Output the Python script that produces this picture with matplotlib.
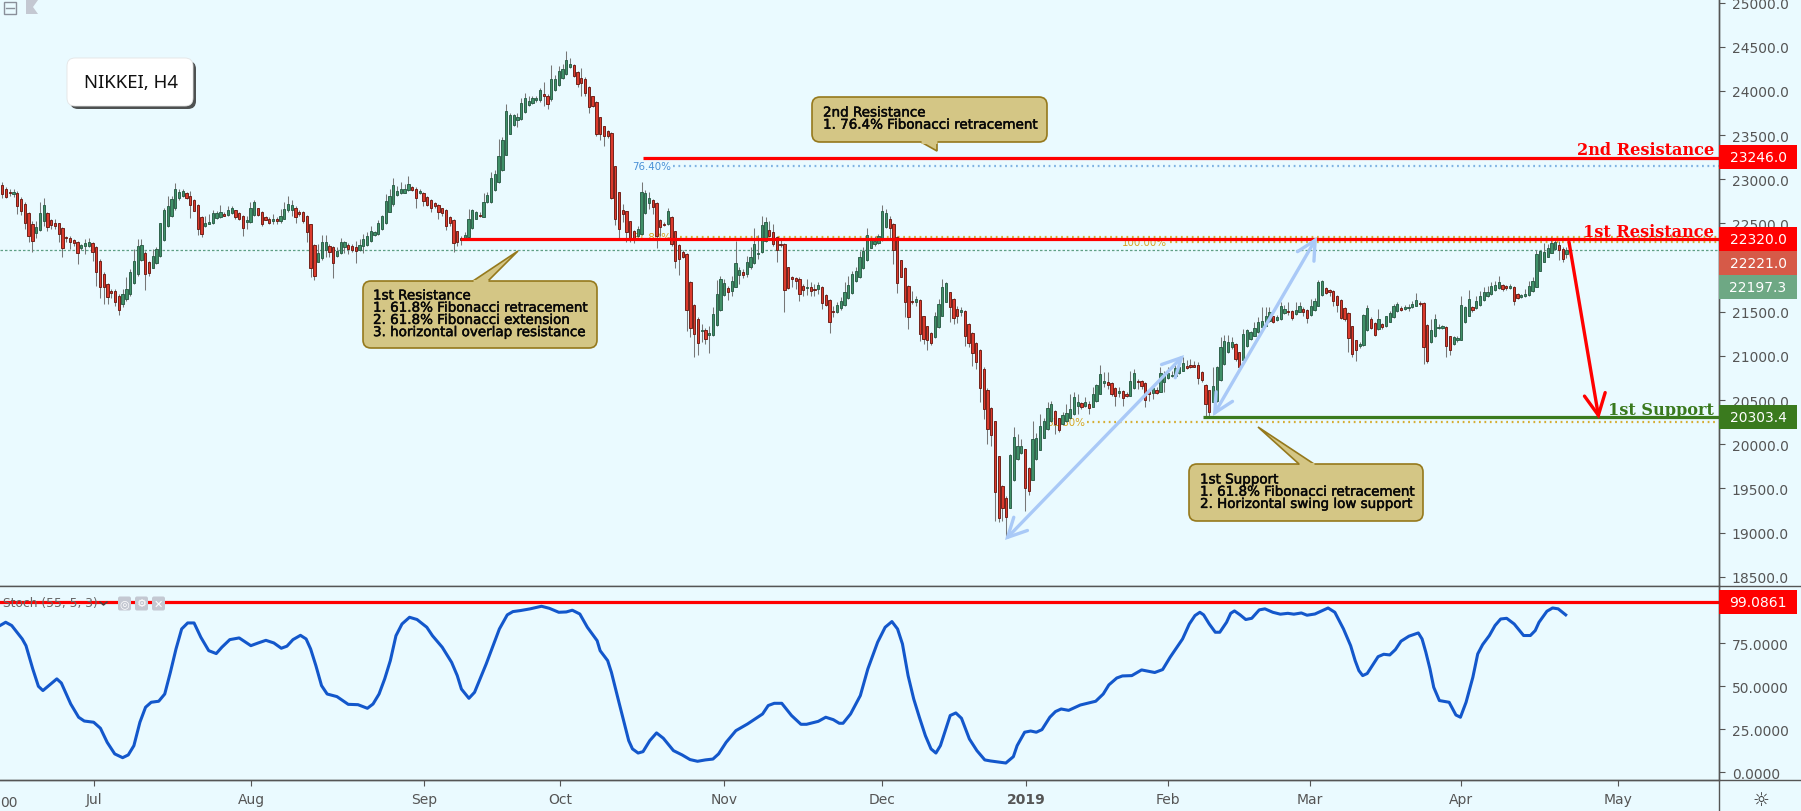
import numpy as np
import matplotlib
matplotlib.use("Agg")
import matplotlib.pyplot as plt
import matplotlib.patheffects as pe
from matplotlib.patches import FancyBboxPatch, FancyArrowPatch, Polygon, Rectangle

# ---- data: rows are (open, high, low, close) -------------------------------
candles_a = [
(22940,22965,22785,22830),(22895,22910,22785,22800),(22850,22890,22815,22840),(22830,22890,22795,22860),
(22840,22870,22605,22700),(22775,22795,22590,22645),(22720,22740,22435,22510),(22615,22625,22285,22360),
(22490,22530,22180,22305),(22390,22530,22340,22465),(22430,22740,22420,22620),(22530,22785,22475,22710),
(22615,22625,22420,22465),(22540,22550,22435,22480),(22510,22550,22435,22475),(22505,22510,22285,22385),
(22445,22455,22115,22220),(22335,22360,22285,22330),(22330,22355,22210,22285),(22310,22325,22250,22275),
(22295,22305,22040,22170),(22220,22265,22200,22255),(22240,22325,22150,22275),(22240,22330,22230,22295),
(22275,22285,22080,22180),(22230,22250,21795,21945),(22080,22095,21660,21775),(21925,21945,21585,21775),
(21810,21830,21585,21670),(21740,21755,21660,21715),(21730,21755,21570,21615),(21675,21700,21465,21520),
(21585,21755,21550,21700),(21645,21890,21625,21755),(21700,21985,21680,21955),(21830,22210,21815,22070),
(21925,22325,21910,22240),(22090,22325,22075,22255),(22170,22190,21750,21925),(22060,22080,21910,21940),
(22000,22215,21990,22130),(22050,22230,22040,22210),(22130,22510,22115,22500),(22315,22680,22305,22650),
(22475,22815,22455,22695),(22580,22815,22570,22775),(22670,22955,22655,22895),(22785,22890,22770,22860),
(22815,22890,22805,22865),(22840,22860,22775,22790),(22815,22870,22560,22710),(22765,22775,22645,22645),
(22710,22720,22370,22435),(22570,22580,22350,22385),(22475,22585,22455,22510),(22495,22605,22490,22520),
(22500,22655,22495,22615),(22560,22645,22550,22620),(22570,22710,22565,22635),(22610,22625,22580,22585),
(22600,22700,22585,22650),(22620,22700,22610,22670),(22650,22655,22550,22575),(22615,22625,22540,22555),
(22580,22595,22360,22450),(22520,22585,22435,22540),(22520,22740,22510,22670),(22595,22770,22585,22740),
(22670,22680,22585,22595),(22635,22645,22475,22490),(22570,22585,22535,22540),(22555,22570,22490,22510),
(22530,22605,22490,22555),(22550,22570,22490,22530),(22530,22660,22510,22580),(22555,22740,22550,22660),
(22650,22815,22625,22725),(22655,22765,22585,22710),(22675,22700,22505,22575),(22635,22655,22585,22610),
]
candles_b = [
(22625,22645,22510,22530),(22580,22590,22285,22400),(22490,22495,21890,21995),(22255,22265,21860,21900),
(22065,22265,22060,22160),(22105,22370,22090,22295),(22200,22370,22115,22285),(22240,22265,22115,22180),
(22230,22250,21880,22050),(22135,22230,22115,22190),(22165,22340,22150,22295),(22230,22305,22170,22290),
(22260,22275,22155,22215),(22245,22265,22180,22200),(22230,22305,22050,22190),(22200,22325,22190,22260),
(22250,22380,22170,22325),(22255,22400,22240,22360),(22305,22475,22290,22410),(22365,22420,22355,22400),
(22380,22540,22370,22510),(22435,22595,22430,22580),(22505,22830,22495,22755),(22635,22890,22625,22815),
(22715,23015,22700,22935),(22825,22925,22815,22865),(22845,22965,22835,22890),(22850,22945,22845,22895),
(22880,23035,22870,22942),(22910,22920,22870,22880),(22895,22910,22680,22790),(22845,22890,22835,22865),
(22850,22860,22700,22755),(22805,22815,22695,22710),(22765,22775,22625,22680),(22730,22740,22670,22695),
(22710,22720,22550,22635),(22670,22680,22585,22620),(22655,22665,22430,22475),(22570,22580,22475,22505),
(22535,22550,22180,22280),(22410,22420,22240,22285),(22340,22360,22255,22310),(22330,22405,22320,22370),
(22350,22660,22340,22555),(22450,22660,22435,22650),(22555,22645,22550,22625),(22595,22625,22570,22580),
(22575,22850,22570,22745),(22740,22860,22730,22820),(22740,23080,22730,23020),(22880,23110,22870,23060),
(22965,23455,22955,23260),(23110,23475,23095,23440),(23280,23850,23275,23770),(23515,23755,23510,23730),
(23615,23740,23605,23730),(23675,23755,23590,23705),(23680,23925,23675,23860),(23765,23975,23755,23920),
(23840,23945,23835,23890),(23865,23945,23850,23925),(23900,23945,23870,23915),(23900,24035,23870,24010),
(23960,24100,23835,23940),(23945,23965,23790,23855),(23910,24295,23890,24140),(24015,24180,24005,24135),
(24070,24285,24060,24230),(24145,24305,24135,24250),(24190,24450,24180,24345),(24275,24370,24265,24300),
(24290,24305,24155,24165),(24220,24230,24050,24080),(24150,24255,23940,24095),(24140,24155,23945,23980),
(24050,24060,23750,23815),(23940,23945,23815,23825),(23880,23890,23495,23510),(23700,23710,23450,23510),
]
candles_c = [
(23600,23607,23380,23494),(23547,23562,23464,23494),(23520,23531,22776,22784),(23146,23154,22482,22554),
(22852,22860,22331,22437),(22648,22720,22512,22607),(22637,22644,22286,22407),(22524,22531,22286,22324),
(22410,22429,22278,22335),(22361,22475,22342,22433),(22380,22965,22369,22852),(22622,22882,22607,22841),
(22731,22860,22663,22784),(22761,22776,22607,22682),(22727,22739,22222,22354),(22539,22550,22361,22456),
(22497,22512,22475,22482),(22497,22675,22482,22637),(22569,22588,22248,22267),(22410,22418,21991,22078),
(22256,22267,21916,22097),(22176,22203,22105,22123),(22150,22161,21285,21516),(21836,21852,21210,21316),
(21572,21587,20983,21244),(21418,21436,21014,21146),(21278,21361,21153,21289),(21293,21312,21134,21191),
(21240,21342,21032,21255),(21240,21550,21229,21470),(21353,21859,21342,21697),(21523,21908,21512,21867),
(21693,21870,21682,21821),(21765,21795,21633,21727),(21738,21908,21682,21848),(21784,22305,21776,22052),
(21920,22003,21814,21972),(21946,21984,21882,21920),(21931,22135,21889,22063),(22003,22229,21984,22120),
(22052,22444,22040,22267),(22154,22369,22097,22165),(22172,22580,22165,22482),(22305,22569,22286,22512),
(22425,22531,22342,22357),(22399,22493,22248,22271),(22346,22361,22059,22195),(22267,22324,22229,22259),
(22263,22274,21493,21750),(22003,22010,21757,21765),(21893,21908,21776,21867),(21878,21889,21757,21844),
(21870,21889,21625,21704),(21791,21814,21682,21750),(21765,21870,21689,21776),(21780,21833,21674,21731),
(21757,21814,21682,21742),(21753,21833,21701,21802),(21776,21795,21531,21595),(21685,21697,21561,21580),
(21629,21644,21255,21380),(21508,21568,21436,21500),(21500,21606,21486,21576),(21538,21663,21523,21621),
(21576,21840,21561,21719),(21651,21908,21644,21802),(21712,21965,21701,21923),(21844,22003,21833,21957),
(21889,22191,21878,22120),(21995,22229,21984,22184),(22089,22444,22078,22365),(22225,22342,22218,22308),
(22267,22354,22248,22305),(22278,22380,22267,22354),(22316,22709,22305,22637),(22459,22663,22448,22614),
(22546,22588,22323,22444),(22490,22501,22040,22199),(22342,22354,21712,21821),(22082,22089,21889,21897),
]
candles_d = [
(21991,22003,21436,21606),(21795,21802,21304,21440),(21621,21738,21587,21614),(21614,21682,21568,21640),
(21629,21644,21172,21248),(21448,21455,21134,21187),(21334,21342,21070,21183),(21255,21267,21123,21146),
(21210,21493,21198,21448),(21323,21644,21312,21584),(21455,21870,21448,21776),(21614,21840,21606,21825),
(21719,21727,21380,21550),(21640,21651,21361,21425),(21527,21568,21372,21455),(21493,21550,21455,21519),
(21508,21519,21108,21221),(21357,21369,21097,21146),(21255,21267,20889,21029),(21142,21153,20851,20927),
(21063,21078,20473,20632),(20851,20870,20285,20398),(20620,20632,20001,20171),(20405,20417,19982,20103),
(20258,20266,19126,19461),(19862,19869,19122,19167),(19526,19537,19126,19280),(19397,19409,18944,19178),
(19280,19888,19277,19884),(19590,20201,19586,20077),(19831,20115,19824,19975),(19903,20058,19888,19975),
(19941,19952,19246,19507),(19726,19737,19424,19473),(19601,20262,19597,20058),(19828,20126,19820,20066),
(19937,20341,19930,20205),(20073,20303,20066,20262),(20171,20481,20164,20413),(20262,20492,20247,20451),
(20375,20386,20115,20224),(20292,20303,20141,20164),(20228,20360,20217,20330),(20266,20454,20254,20352),
(20300,20568,20292,20394),(20341,20587,20330,20537),(20436,20568,20341,20473),(20462,20473,20398,20424),
(20436,20530,20417,20473),(20458,20492,20341,20405),(20424,20643,20417,20568),(20492,20681,20481,20670),
(20571,20896,20564,20794),(20692,20813,20643,20719),(20700,20813,20624,20673),(20692,20700,20549,20571),
(20636,20647,20436,20541),(20583,20643,20530,20605),(20602,20617,20436,20526),(20564,20587,20530,20549),
(20549,20832,20541,20715),(20632,20851,20624,20805),(20715,20738,20624,20707),(20711,20722,20624,20662),
(20692,20700,20417,20504),(20598,20617,20492,20571),(20579,20662,20511,20632),(20613,20643,20568,20583),
(20594,20870,20587,20805),(20700,20832,20587,20794),(20745,20870,20738,20805),(20775,20832,20756,20783),
(20775,20907,20768,20858),(20805,20926,20794,20870),(20832,20983,20824,20919),(20881,20950,20850,20858),
(20896,20960,20860,20873),(20896,20940,20870,20870),(20896,20926,20681,20749),(20821,20832,20700,20730),
(20673,20681,20322,20451),(20609,20617,20315,20360),(20481,20870,20473,20654),(20492,20889,20473,20877),
]
candles_e = [
(20723,21210,20715,21100),(20904,21236,20897,21165),(21040,21236,21032,21161),(21097,21210,21078,21153),
(21131,21142,20946,20964),(21040,21048,20859,20870),(20957,21304,20946,21248),(21112,21304,21097,21289),
(21195,21285,21183,21267),(21229,21380,21221,21319),(21267,21436,21259,21380),(21323,21550,21312,21395),
(21342,21550,21334,21455),(21399,21550,21387,21493),(21448,21455,21372,21387),(21410,21463,21399,21436),
(21418,21606,21410,21561),(21486,21576,21474,21531),(21508,21606,21463,21500),(21508,21523,21410,21425),
(21474,21606,21463,21523),(21500,21606,21493,21568),(21531,21550,21448,21493),(21519,21531,21372,21425),
(21467,21644,21455,21561),(21516,21651,21508,21621),(21568,21859,21561,21833),(21693,21859,21682,21848),
(21765,21776,21701,21716),(21746,21757,21682,21719),(21734,21742,21561,21617),(21682,21689,21493,21580),
(21633,21644,21417,21425),(21538,21550,21399,21417),(21482,21493,21040,21199),(21334,21342,20983,21021),
(21176,21183,20946,21063),(21116,21153,21085,21131),(21123,21474,21116,21463),(21289,21576,21282,21538),
(21414,21436,21304,21320),(21368,21380,21221,21236),(21304,21531,21297,21418),(21357,21368,21304,21323),
(21334,21455,21323,21448),(21387,21512,21380,21485),(21440,21587,21433,21561),(21504,21606,21493,21587),
(21546,21561,21512,21523),(21531,21576,21523,21550),(21538,21587,21512,21553),(21550,21625,21538,21587),
(21568,21712,21561,21633),(21598,21625,21568,21591),(21595,21606,20908,21097),(21350,21361,20919,20946),
(21153,21417,21146,21293),(21221,21474,21213,21417),(21312,21361,21304,21327),(21319,21350,21304,21338),
(21323,21334,20983,21116),(21221,21229,21010,21063),(21134,21229,21123,21210),(21176,21221,21161,21199),
(21183,21682,21176,21576),(21380,21568,21372,21557),(21455,21750,21448,21644),(21553,21568,21493,21519),
(21538,21682,21531,21621),(21576,21738,21568,21682),(21636,21776,21625,21727),(21674,21787,21663,21727),
(21697,21833,21689,21795),(21750,21852,21738,21802),(21769,21901,21757,21836),(21802,21814,21738,21757),
(21787,21802,21746,21765),(21772,21814,21757,21791),(21776,21787,21576,21617),(21697,21708,21644,21659),
(21670,21701,21655,21689),(21674,21757,21663,21701),(21685,21852,21674,21791),(21738,21889,21727,21844),
(21784,22203,21776,22154),(21965,22203,21957,22191),(22067,22278,22059,22180),(22123,22267,22116,22222),
(22165,22343,22165,22278),(22210,22323,22203,22293),(22256,22305,22090,22203),(22214,22229,22067,22097),
(22154,22229,22108,22199),
]
# Stochastic line: (candle position, value)
stoch_a = [(-0.6,85.3),(0.9,87.2),(2.5,85.3),(5.3,77.5),(6.3,73.6),(8.1,60.1),(9.6,50.0),(10.8,47.5),(12.6,50.8),(14.5,54.3),
(15.7,51.9),(18.2,39.7),(20.3,32.0),(21.8,29.8),(24.3,29.1),(26.1,25.6),(27.9,17.4),(29.9,10.7),(32.0,8.5),(33.5,10.1),
(35.0,15.5),(36.6,29.1),(38.1,37.8),(39.6,40.7),(41.6,41.3),(43.2,45.5),(44.7,58.1),(46.2,71.7),(47.7,83.3),(49.3,86.8),
(51.0,86.8),(52.8,78.5),(54.9,70.7),(56.9,69.0),(58.4,72.7),(60.5,77.1),(63.0,78.1),(66.1,73.6),(68.1,75.2),(70.1,76.7),
(72.2,75.2),(74.2,72.1),(75.7,73.3),(77.3,77.1),(79.3,79.6),(80.8,77.5),(82.0,71.7),(83.4,62.0),(84.9,50.4),(86.4,45.5),
(89.0,44.0),(92.0,39.5),(94.6,39.3),(97.1,37.2),(98.6,39.7),(100.2,45.5),(101.7,54.3),(103.2,64.9),(104.7,79.4),(106.3,86.2),
(108.3,90.1),(110.3,88.8),(112.9,84.3),(114.4,79.4),(117.0,72.7),(119.5,63.9),(121.0,56.2),(122.1,48.4),(124.1,43.0),(125.6,46.5),
(128.7,63.0),(132.2,83.3),(134.3,91.5),(135.8,93.4),(137.8,94.0),(140.4,95.0),(143.4,96.5),(145.5,95.3),(148.0,93.0),(150.0,93.2),
(151.6,94.2),(153.6,92.0),(155.6,84.3),(158.2,76.5),(159.0,70.7)]
stoch_b = [(161.0,64.9),(162.0,58.1),(164.0,40.7),(166.6,18.4),(167.6,13.6),(169.1,11.2),(170.4,12.0),(172.2,18.4),(174.0,22.9),(175.8,19.8),
(178.5,12.6),(180.8,10.1),(182.9,7.4),(184.9,6.4),(187.0,7.2),(189.0,7.7),(190.5,10.7),(192.5,17.4),(195.1,24.2),(198.2,28.1),
(200.2,31.0),(202.2,33.9),(203.7,38.8),(205.3,40.1),(207.3,40.1),(209.9,33.0),(212.4,27.9),(213.9,27.9),(217.0,29.6),(219.0,32.0),
(221.0,30.6),(222.6,28.5),(223.6,28.5),(225.6,33.9),(228.2,44.6),(230.2,60.1),(232.8,75.6),(234.8,84.3),(236.6,87.6),(238.1,83.3),
(239.4,74.6),(240.9,56.2),(242.4,42.6),(243.9,32.0),(245.5,21.3),(247.0,13.6),(248.3,11.2),(249.5,15.5),(252.1,33.0),(253.6,34.5),
(255.1,31.4),(257.2,19.4),(259.2,12.6),(261.3,7.2),(262.8,6.6),(266.9,5.4),(268.9,9.1),(269.9,15.5),(271.9,23.3),(273.5,24.0),
(275.0,23.3),(276.5,24.8),(278.6,32.0),(280.1,35.3),(281.6,36.8),(283.6,36.0),(286.7,39.1),(290.8,41.3),(292.8,45.5),(294.3,50.8),
(296.4,54.8),(297.9,56.0),(300.4,56.2),(303.0,59.5),(306.5,58.0),(308.6,59.7),(310.6,66.9),(313.9,77.5),(315.7,86.2),(317.2,91.1),(318.5,93.0)]
stoch_c = [(319.5,91.5),(321.0,86.2),(322.6,81.4),(323.8,81.4),(325.6,87.2),(326.7,92.4),(327.7,93.8),(329.2,91.5),(330.7,88.8),(332.3,89.5),
(334.3,94.4),(335.8,95.0),(337.9,93.0),(339.9,91.9),(341.9,92.4),(343.5,91.9),(345.5,92.6),(347.0,91.3),(349.1,92.0),(351.1,94.0),
(352.6,95.5),(354.4,93.0),(356.7,83.3),(358.6,73.6),(359.8,64.9),(360.8,59.1),(361.8,56.2),(363.0,57.4),(365.9,67.2),(367.4,68.6),
(369.0,68.2),(370.5,71.3),(372.0,76.2),(374.1,79.1),(376.6,81.0),(377.6,77.5),(378.6,69.8),(379.7,60.1),(380.7,49.4),(382.2,41.7),
(384.8,40.7),(386.6,33.3),(387.8,32.0),(389.3,40.7),(391.1,55.2),(392.4,68.8),(393.7,74.2),(395.5,79.5),(397.0,85.3),(398.5,89.1),
(400.1,89.5),(402.1,86.2),(404.6,79.5),(406.4,79.5),(407.7,82.4),(408.7,87.2),(410.8,93.6),(412.3,95.5),(413.8,95.0),(415.8,91.5)]

price_ticks = list(range(18500, 25001, 500))
stoch_ticks = [0, 25, 50, 75]
month_labels = ["Jul", "Aug", "Sep", "Oct", "Nov", "Dec", "2019", "Feb", "Mar", "Apr", "May"]
month_pos = [24.4, 66.2, 112.2, 148.3, 191.9, 234.0, 272.3, 310.0, 347.8, 388.0, 429.8]
resistance_2 = 23246.0
resistance_1 = 22320.0
support_1 = 20303.4
bar_open = 22221.0
last_close = 22197.3
stoch_level = 99.0861
fib_levels = {"76.40%": 23147, "61.80%": 22344, "100.00%": 22287, "61.80% ": 20249}

# ---- layout ----------------------------------------------------------------
W, H = 1801, 812
BG = "#EAFAFF"
AXC = "#555555"
AX_R, MAIN_B, STOCH_B = 1719.4, 587.3, 780.7
plt.rcParams["font.family"] = ["DejaVu Sans"]
fig = plt.figure(figsize=(W / 100, H / 100), dpi=100, facecolor=BG)
ax = fig.add_axes([0, 1 - MAIN_B / H, AX_R / W, MAIN_B / H], facecolor=BG)
sx = fig.add_axes([0, 1 - STOCH_B / H, AX_R / W, (STOCH_B - MAIN_B) / H], facecolor=BG)
ov = fig.add_axes([0, 0, 1, 1], facecolor="none", zorder=10)
ov.set_xlim(0, W); ov.set_ylim(H, 0); ov.axis("off")

rows = np.array(candles_a + candles_b + candles_c + candles_d + candles_e, dtype=float)
o, h, l, c = rows.T
idx = np.arange(len(rows))
step = 3.76
XLIM = (-2.3 / step, (AX_R - 2.3) / step)
px2i = lambda px: (px - 2.3) / step

for a in (ax, sx):
    a.set_xlim(*XLIM)
    a.spines["left"].set_visible(False)
    a.spines["top"].set_visible(False)
    for s in ("right", "bottom"):
        a.spines[s].set_color(AXC); a.spines[s].set_linewidth(1.0)
    a.yaxis.tick_right()
    a.tick_params(axis="y", colors=AXC, length=4, width=0.8, labelsize=10, pad=5)
    a.tick_params(axis="x", colors=AXC, length=4, width=0.8, labelsize=10, pad=5)

ax.set_ylim(18392, 25041)
ax.set_yticks(price_ticks)
ax.set_yticklabels([f"{t:.1f}" for t in price_ticks])
ax.set_xticks([])
sx.set_ylim(-4.3, 108.1)
sx.set_yticks(stoch_ticks)
sx.set_yticklabels([f"{t:.4f}" for t in stoch_ticks])
sx.set_xticks(month_pos)
sx.set_xticklabels(month_labels)
for t in sx.get_xticklabels():
    if t.get_text() == "2019":
        t.set_fontweight("bold")

# price line + fib levels behind the candles
ax.axhline(last_close, color="#5F9F85", lw=0.9, ls=(0, (2, 1.6)), zorder=1)
DOT = (0, (0.8, 1.65))
ax.hlines(fib_levels["76.40%"], px2i(673), XLIM[1], color="#7FB2E2", lw=1.6, ls=DOT, zorder=1)
ax.hlines(fib_levels["61.80%"], px2i(680), XLIM[1], color="#D6AE34", lw=1.6, ls=DOT, zorder=1)
ax.hlines(fib_levels["100.00%"], px2i(1170), XLIM[1], color="#D6AE34", lw=1.6, ls=DOT, zorder=1)
ax.hlines(fib_levels["61.80% "], px2i(1087), px2i(1715), color="#D6AE34", lw=1.6, ls=DOT, zorder=1)
for txt, lev, px, col in [("76.40%", fib_levels["76.40%"], 671, "#4A90D6"),
                          ("61.80%", fib_levels["61.80%"], 671, "#D6A520"),
                          ("100.00%", fib_levels["100.00%"], 1167, "#D6A520"),
                          ("61.80%", fib_levels["61.80% "], 1085, "#D6A520")]:
    ax.text(px2i(px), lev, txt.strip(), color=col, fontsize=7.4, ha="right", va="center", zorder=1)

# candles
up = c >= o
body_bot = np.minimum(o, c)
body_h = np.maximum(np.abs(c - o), 12)
ax.vlines(idx, l, h, color="#777777", lw=0.75, zorder=2)
ax.bar(idx[up], body_h[up], bottom=body_bot[up], width=0.6, color="#3F9068", edgecolor="#2A5C46", lw=0.65, zorder=3)
ax.bar(idx[~up], body_h[~up], bottom=body_bot[~up], width=0.6, color="#DB3A2C", edgecolor="#6B1A12", lw=0.65, zorder=3)

# levels
RED, GREEN = "#FF0000", "#3A7A1E"
ax.hlines(resistance_2, px2i(643), XLIM[1], color=RED, lw=2.3, zorder=5)
ax.hlines(resistance_1, px2i(461), XLIM[1], color=RED, lw=2.3, zorder=5)
ax.hlines(support_1, px2i(1203), XLIM[1], color=GREEN, lw=2.3, zorder=5)
sx.axhline(stoch_level, color=RED, lw=2.3, zorder=2)

# stochastic
st = np.array(stoch_a + stoch_b + stoch_c)
sx.plot(st[:, 0], st[:, 1], color="#1357CB", lw=2.2, zorder=3, solid_joinstyle="round")

# right-hand price boxes
def pbox(y_top, y_bot, col, txt):
    ov.add_patch(Rectangle((AX_R, y_top), 1797 - AX_R, y_bot - y_top, fc=col, ec="none", zorder=3))
    ov.text(1758, (y_top + y_bot) / 2, txt, color="white", fontsize=10, ha="center", va="center", zorder=4)
pbox(146, 170, RED, f"{resistance_2:.1f}")
pbox(228, 252, RED, f"{resistance_1:.1f}")
pbox(252, 276, "#D65A48", f"{bar_open:.1f}")
pbox(276, 300, "#6EA884", f"{last_close:.1f}")
pbox(406, 430, GREEN, f"{support_1:.1f}")
pbox(591, 615, RED, f"{stoch_level:.4f}")

# separators that run the full width
ov.plot([0, W], [MAIN_B, MAIN_B], color=AXC, lw=1.0, zorder=1)
ov.plot([0, W], [STOCH_B, STOCH_B], color=AXC, lw=1.0, zorder=1)
ov.plot([AX_R, AX_R], [0, H], color=AXC, lw=1.0, zorder=1)

# level captions
cap = dict(fontsize=11.6, family="DejaVu Serif", weight="bold", ha="right", va="baseline")
ov.text(1714, 155, "2nd Resistance", color=RED, **cap)
ov.text(1714, 237, "1st Resistance", color=RED, **cap)
ov.text(1714, 415.5, "1st Support", color=GREEN, **cap)

# arrows
def arrow(p0, p1, col, style):
    ov.add_patch(FancyArrowPatch(p0, p1, arrowstyle=style, color=col, lw=2.4, shrinkA=0, shrinkB=0,
                                 mutation_scale=18, joinstyle="miter", zorder=5))
BLUE = "#A9C9F7"
dbl = "<->,head_length=0.75,head_width=0.38"
arrow((1005, 541), (1184, 356), BLUE, dbl)
arrow((1213, 417), (1317, 238), BLUE, dbl)
arrow((1569, 243), (1599, 420), RED, "->,head_length=0.85,head_width=0.42")

# callouts
CF, CE = "#D4C685", "#95791C"
def callout(x0, y0, x1, y1, ptr, lines, tx, ty):
    ov.add_patch(FancyBboxPatch((x0 + 6, y0 + 6), x1 - x0 - 12, y1 - y0 - 12,
                 boxstyle="round,pad=6,rounding_size=8", fc=CF, ec=CE, lw=1.2, zorder=6))
    ov.add_patch(Polygon(ptr, closed=True, fc=CF, ec=CE, lw=1.2, zorder=6, joinstyle="miter"))
    (a0, a1, tip) = ptr
    ov.plot([a0[0], a1[0]], [a0[1], a1[1]], color=CF, lw=2.2, zorder=7, solid_capstyle="butt")
    for i, t in enumerate(lines):
        ov.text(tx, ty + 12.2 * i, t, color="#080808", fontsize=9.7, ha="left", va="center", zorder=8,
                path_effects=[pe.withStroke(linewidth=0.35, foreground="#080808")])
callout(363, 282, 597, 349, [(473, 282), (488, 282), (518, 252)],
        ["1st Resistance", "1. 61.8% Fibonacci retracement", "2. 61.8% Fibonacci extension", "3. horizontal overlap resistance"], 373, 297)
callout(812, 98, 1047, 143, [(921, 143), (937, 143), (937, 152)],
        ["2nd Resistance", "1. 76.4% Fibonacci retracement"], 823, 114)
callout(1189, 465, 1423, 522, [(1299, 465), (1314, 465), (1258, 428)],
        ["1st Support", "1. 61.8% Fibonacci retracement", "2. Horizontal swing low support"], 1200, 481)

# title box
ov.add_patch(FancyBboxPatch((78, 70), 110, 32, boxstyle="round,pad=8,rounding_size=8", fc="#333333", ec="none", alpha=0.85, zorder=6))
ov.add_patch(FancyBboxPatch((75, 67), 110, 32, boxstyle="round,pad=8,rounding_size=8", fc="white", ec="#E4E4E4", lw=0.6, zorder=7))
ov.text(84, 83, "NIKKEI, H4", color="#111111", fontsize=13.4, family="Noto Sans", ha="left", va="center", zorder=8)

# chart furniture
ICON = "#C4C8D2"
ov.add_patch(Rectangle((3.5, 2.5), 12, 12, fc="none", ec="#8A8F9A", lw=1, zorder=8))
ov.plot([5.5, 13.5], [8.5, 8.5], color="#8A8F9A", lw=1, zorder=8)
ov.add_patch(Polygon([(26, 1), (38, 1), (33, 8), (38, 15), (26, 15)], closed=True, fc=ICON, ec="none", zorder=8))
ov.text(3, 604, "Stoch (55, 5, 3)", color="#666666", fontsize=8.8, ha="left", va="center", zorder=8)
ov.plot([100, 103.5, 107], [603, 606, 603], color="#444444", lw=1.1, zorder=8)
for bx, g in zip((118, 135, 152), ("\u25CE", "\u2699", "\u2715")):
    ov.add_patch(FancyBboxPatch((bx + 1, 598.5), 11, 12, boxstyle="round,pad=1,rounding_size=2", fc=ICON, ec="none", zorder=8))
    ov.text(bx + 6.5, 604.5, g, color="white", fontsize=8, ha="center", va="center", zorder=9)
ov.text(0, 803, "00", color=AXC, fontsize=10, ha="left", va="center", zorder=8)
ov.text(1761, 800, "\u263C", color="#333333", fontsize=13.5, ha="center", va="center", zorder=8)

fig.savefig("out.png", dpi=100, facecolor=BG)
